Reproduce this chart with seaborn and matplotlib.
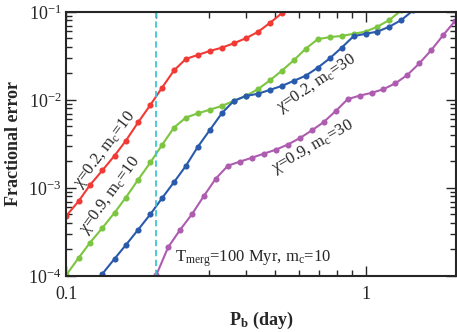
import numpy as np
import pandas as pd
import matplotlib
matplotlib.use("Agg")
import matplotlib.pyplot as plt
import seaborn as sns

# orbital period grid (day), same grid for the three chi/m_c curves
pb_grid = [0.100, 0.110, 0.120, 0.132, 0.145, 0.158, 0.174, 0.191, 0.209, 0.229,
           0.251, 0.275, 0.302, 0.331, 0.363, 0.398, 0.437, 0.479, 0.525, 0.575,
           0.631, 0.692, 0.759, 0.832, 0.912, 1.000, 1.096, 1.202, 1.318, 1.445]
# purple curve starts at the T_merg=100 Myr cut (0.2 day)
pb_purple = [0.200, 0.219, 0.240, 0.263, 0.288, 0.316, 0.347, 0.380, 0.417, 0.457,
             0.501, 0.550, 0.603, 0.661, 0.724, 0.794, 0.871, 0.955, 1.047, 1.148,
             1.259, 1.380, 1.514, 1.660, 1.820, 1.995]

# log10(fractional error)
red_log = [-3.318, -3.150, -2.968, -2.801, -2.633, -2.466, -2.253, -2.057, -1.860, -1.665,
           -1.534, -1.489, -1.443, -1.406, -1.356, -1.299, -1.227, -1.125, -1.015]
green_log = [-3.989, -3.795, -3.623, -3.455, -3.282, -3.111, -2.905, -2.711, -2.511, -2.315,
             -2.200, -2.153, -2.111, -2.068, -2.011, -1.955, -1.878, -1.778, -1.668, -1.551,
             -1.418, -1.310, -1.286, -1.273, -1.248, -1.224, -1.167, -1.091, -0.980]
blue_log = [-3.977, -3.805, -3.651, -3.473, -3.299, -3.116, -2.935, -2.750, -2.534, -2.341,
            -2.151, -2.011, -1.955, -1.930, -1.886, -1.841, -1.784, -1.725, -1.634, -1.528,
            -1.406, -1.276, -1.248, -1.224, -1.167, -1.091, -0.980]
blue_start = 3
purple_log = [-3.989, -3.674, -3.477, -3.299, -3.094, -2.894, -2.747, -2.702, -2.657, -2.611,
              -2.566, -2.507, -2.434, -2.347, -2.253, -2.128, -1.992, -1.951, -1.920, -1.878,
              -1.810, -1.716, -1.583, -1.432, -1.261, -1.099]

colors = {"red": "#f23a35", "green": "#7cc540", "blue": "#2a5aab", "purple": "#ad5cb0"}

frames = []
frames.append(pd.DataFrame({"Pb": pb_grid[:len(red_log)], "err": 10 ** np.array(red_log), "run": "red"}))
frames.append(pd.DataFrame({"Pb": pb_grid[:len(green_log)], "err": 10 ** np.array(green_log), "run": "green"}))
frames.append(pd.DataFrame({"Pb": pb_grid[blue_start:blue_start + len(blue_log)],
                            "err": 10 ** np.array(blue_log), "run": "blue"}))
frames.append(pd.DataFrame({"Pb": pb_purple, "err": 10 ** np.array(purple_log), "run": "purple"}))
data = pd.concat(frames, ignore_index=True)

sns.set_style("ticks")
plt.rcParams['font.family'] = ['Liberation Serif', 'DejaVu Serif']
plt.rcParams['mathtext.fontset'] = 'custom'
plt.rcParams['mathtext.rm'] = 'Liberation Serif'
plt.rcParams['mathtext.it'] = 'Liberation Serif:italic'
plt.rcParams['mathtext.bf'] = 'Liberation Serif:bold'

fig = plt.figure(figsize=(4.57, 3.32), dpi=100)
ax = fig.add_axes([0.145, 0.169, 0.852, 0.795])

for run in ["red", "green", "blue", "purple"]:
    sub = data[data["run"] == run]
    sns.lineplot(data=sub, x="Pb", y="err", ax=ax, color=colors[run], marker="o",
                 markersize=4.4, markeredgewidth=0, linewidth=1.5, sort=False)

ax.axvline(0.2, color="#3ec6d6", linestyle="--", linewidth=1.3, dashes=(3.5, 2))

ax.set_xscale("log")
ax.set_yscale("log")
ax.set_xlim(0.1, 2.0)
ax.set_ylim(1e-4, 1e-1)
ax.set_xticks([0.1, 1])
ax.set_xticklabels(["0.1", "1"])
ax.set_yticks([1e-4, 1e-3, 1e-2, 1e-1])
ax.set_yticklabels([r"$10^{-4}$", r"$10^{-3}$", r"$10^{-2}$", r"$10^{-1}$"])
ax.tick_params(which="both", direction="in", top=True, right=True, labelsize=13, width=1)
ax.tick_params(which="major", length=7)
ax.tick_params(which="minor", length=4)
ax.tick_params(axis="x", which="major", pad=7)
for s in ax.spines.values():
    s.set_linewidth(1.5)

ax.set_xlabel(r"P$_\mathbf{b}$ (day)", fontsize=13, fontweight="bold", labelpad=5)
ax.set_ylabel("Fractional error", fontsize=13, fontweight="bold", labelpad=4)

tk = dict(fontsize=12, ha="center", va="center", rotation_mode="anchor")
ax.text(0.135, 10 ** -2.57, r"χ=0.2, m$_\mathrm{c}$=10", rotation=53, **tk)
ax.text(0.140, 10 ** -3.08, r"χ=0.9, m$_\mathrm{c}$=10", rotation=54, **tk)
ax.text(0.687, 10 ** -1.81, r"χ=0.2, m$_\mathrm{c}$=30", rotation=34, **tk)
ax.text(0.666, 10 ** -2.53, r"χ=0.9, m$_\mathrm{c}$=30", rotation=30, **tk)
ax.text(0.231, 10 ** -3.80, r"T$_\mathrm{merg}$=100 Myr, m$_\mathrm{c}$=10", fontsize=12,
        ha="left", va="center")

fig.savefig("out.png", dpi=100)
